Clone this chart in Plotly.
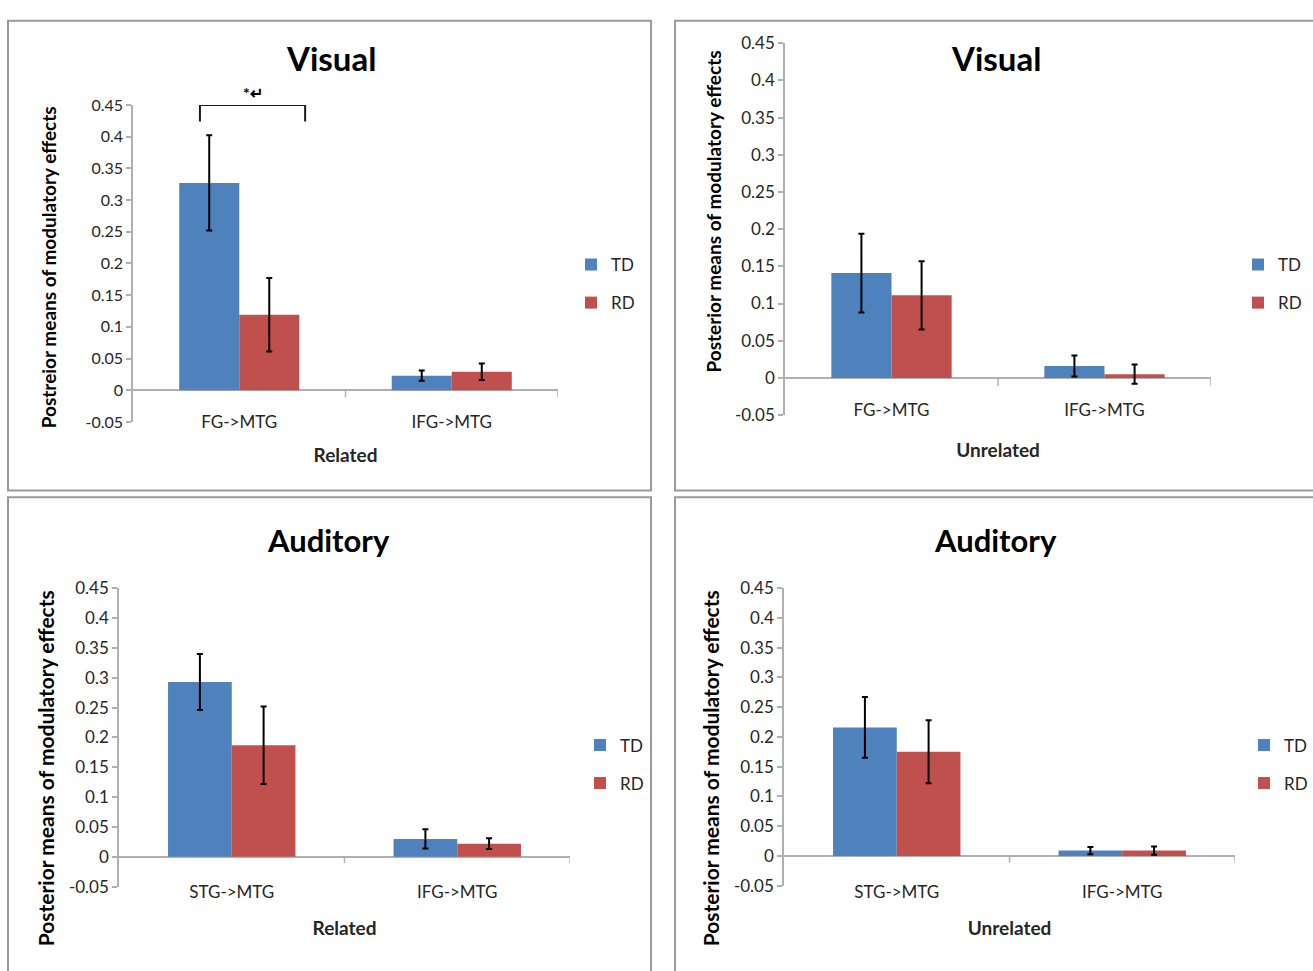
import plotly.graph_objects as go

# ---------------- data ----------------
PANEL_TITLES = ["Visual", "Visual", "Auditory", "Auditory"]
X_TITLES = ["Related", "Unrelated", "Related", "Unrelated"]
Y_TITLES = [
    "Postreior means of modulatory effects",
    "Posterior means of modulatory effects",
    "Posterior means of modulatory effects",
    "Posterior means of modulatory effects",
]
SERIES = ["TD", "RD"]

CATS_VISUAL = ["FG->MTG", "IFG->MTG"]
CATS_AUDITORY = ["STG->MTG", "IFG->MTG"]

TD_VIS_REL = [0.327, 0.023]
TD_VIS_REL_ERR = [0.075, 0.008]
RD_VIS_REL = [0.119, 0.029]
RD_VIS_REL_ERR = [0.058, 0.013]

TD_VIS_UNREL = [0.141, 0.016]
TD_VIS_UNREL_ERR = [0.053, 0.014]
RD_VIS_UNREL = [0.111, 0.005]
RD_VIS_UNREL_ERR = [0.046, 0.013]

TD_AUD_REL = [0.293, 0.030]
TD_AUD_REL_ERR = [0.047, 0.016]
RD_AUD_REL = [0.187, 0.022]
RD_AUD_REL_ERR = [0.065, 0.009]

TD_AUD_UNREL = [0.216, 0.009]
TD_AUD_UNREL_ERR = [0.051, 0.006]
RD_AUD_UNREL = [0.175, 0.009]
RD_AUD_UNREL_ERR = [0.053, 0.007]

Y_TICK_VALS = [-0.05, 0, 0.05, 0.1, 0.15, 0.2, 0.25, 0.3, 0.35, 0.4, 0.45]
Y_TICK_TEXT = ["-0.05", "0", "0.05", "0.1", "0.15", "0.2", "0.25", "0.3", "0.35", "0.4", "0.45"]

SIG_LABEL = "*\u21b5"

# ---------------- layout helpers ----------------
W, H = 1313, 971
def fx(p):
    return p / W
def fy(p):
    return 1 - p / H

BLUE = "#4F81BD"
RED = "#C0504D"
FONT = "Lato"
AXIS_GRAY = "#b0b0b0"
TEXT = "#262626"

panels = [
    dict(cats=CATS_VISUAL, td=TD_VIS_REL, tde=TD_VIS_REL_ERR, rd=RD_VIS_REL, rde=RD_VIS_REL_ERR,
         xdom=(133, 558), ydom=(96, 420), lab_y=420, xt_so=17, yt_xy=(48, 262), yt_size=19,
         tick_size=16, title_size=33,
         title_xy=(331, 48), leg_xy=(571, 279), box=(8, 10, 651, 490)),
    dict(cats=CATS_VISUAL, td=TD_VIS_UNREL, tde=TD_VIS_UNREL_ERR, rd=RD_VIS_UNREL, rde=RD_VIS_UNREL_ERR,
         xdom=(785, 1211), ydom=(33, 413), lab_y=408, xt_so=24, yt_xy=(714, 205), yt_size=19,
         tick_size=17, title_size=33,
         title_xy=(996, 48), leg_xy=(1238, 279), box=(675, 10, 1330, 490)),
    dict(cats=CATS_AUDITORY, td=TD_AUD_REL, tde=TD_AUD_REL_ERR, rd=RD_AUD_REL, rde=RD_AUD_REL_ERR,
         xdom=(119, 570), ydom=(590, 895), lab_y=900, xt_so=20, yt_xy=(45, 774), yt_size=21,
         tick_size=17, title_size=31,
         title_xy=(329, 541), leg_xy=(580, 770), box=(8, 497, 651, 990)),
    dict(cats=CATS_AUDITORY, td=TD_AUD_UNREL, tde=TD_AUD_UNREL_ERR, rd=RD_AUD_UNREL, rde=RD_AUD_UNREL_ERR,
         xdom=(784, 1235), ydom=(590, 894), lab_y=900, xt_so=20, yt_xy=(710, 774), yt_size=21,
         tick_size=17, title_size=31,
         title_xy=(995, 541), leg_xy=(1244, 770), box=(675, 497, 1330, 990)),
]

fig = go.Figure()
annotations = []
shapes = []
layout_axes = {}

for i, p in enumerate(panels):
    n = i + 1
    xa = "x" if n == 1 else f"x{n}"
    ya = "y" if n == 1 else f"y{n}"
    leg = "legend" if n == 1 else f"legend{n}"
    for name, vals, errs, color in [("TD", p["td"], p["tde"], BLUE), ("RD", p["rd"], p["rde"], RED)]:
        fig.add_trace(go.Bar(
            x=p["cats"], y=vals, name=name, xaxis=xa, yaxis=ya, legend=leg,
            legendgroup=f"{name}{n}",
            marker=dict(color=color, line=dict(width=0)),
            error_y=dict(type="data", array=errs, visible=True, color="black",
                         thickness=2, width=3),
        ))

    xkey = "xaxis" if n == 1 else f"xaxis{n}"
    ykey = "yaxis" if n == 1 else f"yaxis{n}"
    x0, x1 = p["xdom"]
    y0, y1 = p["ydom"]
    layout_axes[xkey] = dict(
        domain=[fx(x0), fx(x1)], anchor="free", position=fy(p["lab_y"] - 12),
        range=[-0.5, 1.5], type="category", showline=False, ticks="", showgrid=False,
        zeroline=False,
        tickfont=dict(family=FONT, size=17, color=TEXT),
        title=dict(text=X_TITLES[i], font=dict(family=FONT, size=19, color=TEXT, weight=700),
                   standoff=p["xt_so"]),
    )
    layout_axes[ykey] = dict(
        domain=[fy(y1), fy(y0)], anchor=xa, range=[-0.05, 0.45],
        tickvals=Y_TICK_VALS, ticktext=Y_TICK_TEXT,
        showline=True, linecolor=AXIS_GRAY, linewidth=1.5,
        ticks="outside", ticklen=5, tickcolor=AXIS_GRAY, tickwidth=1.5,
        showgrid=False, zeroline=True, zerolinecolor=AXIS_GRAY, zerolinewidth=1.5,
        tickfont=dict(family=FONT, size=p["tick_size"], color=TEXT),
    )
    # y-axis title (rotated), placed where the original chart has it
    yx, yy = p["yt_xy"]
    annotations.append(dict(text=Y_TITLES[i], xref="paper", yref="paper", x=fx(yx), y=fy(yy),
                            xanchor="center", yanchor="middle", textangle=-90, showarrow=False,
                            font=dict(family=FONT, size=p["yt_size"], color="black", weight=700)))
    # category boundary tick marks on the zero line
    for b in [0.5, 1.5]:
        shapes.append(dict(type="line", xref=xa, yref=ya, x0=b, x1=b, y0=0, y1=-0.011,
                           line=dict(color=AXIS_GRAY, width=1.5)))
    # panel border
    bx0, by0, bx1, by1 = p["box"]
    shapes.append(dict(type="rect", xref="paper", yref="paper",
                       x0=fx(bx0), x1=fx(bx1), y0=fy(by1), y1=fy(by0),
                       line=dict(color="#9a9a9a", width=2), layer="below"))
    # panel title
    tx, ty = p["title_xy"]
    annotations.append(dict(text=PANEL_TITLES[i], xref="paper", yref="paper", x=fx(tx), y=fy(ty),
                            xanchor="center", yanchor="middle", showarrow=False,
                            font=dict(family=FONT, size=p["title_size"], color="black", weight=700)))
    lx, ly = p["leg_xy"]
    layout_axes[leg] = dict(x=fx(lx), y=fy(ly), xanchor="left", yanchor="middle",
                            bgcolor="rgba(0,0,0,0)", tracegroupgap=13,
                            font=dict(family=FONT, size=17, color=TEXT))

# significance bracket (panel 1, between TD and RD of first category)
BRACKET_X = (-0.185, 0.31)
BRACKET_Y = (0.424, 0.45)
shapes.append(dict(type="path", xref="x", yref="y",
                   path=f"M {BRACKET_X[0]},{BRACKET_Y[0]} L {BRACKET_X[0]},{BRACKET_Y[1]} "
                        f"L {BRACKET_X[1]},{BRACKET_Y[1]} L {BRACKET_X[1]},{BRACKET_Y[0]}",
                   line=dict(color="#1a1a1a", width=2)))
annotations.append(dict(text=SIG_LABEL, xref="x", yref="y", x=sum(BRACKET_X) / 2, y=BRACKET_Y[1],
                        xanchor="center", yanchor="bottom", showarrow=False, yshift=1,
                        font=dict(family=FONT, size=16, color="black", weight=700)))

fig.update_layout(
    width=W, height=H, margin=dict(l=0, r=0, t=0, b=0),
    paper_bgcolor="white", plot_bgcolor="rgba(0,0,0,0)",
    barmode="group", bargap=0.435, bargroupgap=0,
    showlegend=True,
    annotations=annotations, shapes=shapes,
    **layout_axes,
)

fig.write_html(
    "out.html",
    config={"displayModeBar": False},
    post_script="document.body.style.margin='0';document.body.style.overflow='hidden';",
)
